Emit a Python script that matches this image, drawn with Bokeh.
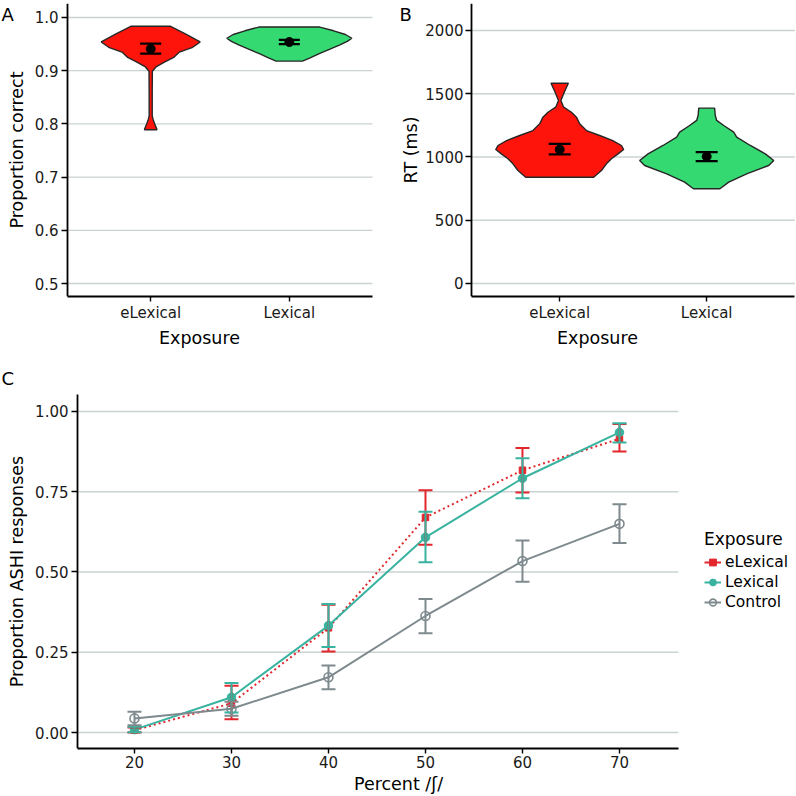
from bokeh.plotting import figure
from bokeh.layouts import column, row
from bokeh.models import (ColumnDataSource, FixedTicker, Label, Legend, LegendItem,
                          Range1d, Whisker, TeeHead, PrintfTickFormatter)
from bokeh.embed import file_html
from bokeh.resources import INLINE

FONT = "DejaVu Sans"
RED_FILL = "#FF140C"
GREEN_FILL = "#35D972"
RED = "#E2262C"
TEAL = "#39B3A0"
GREY = "#7E8A8E"
GRID = "#CBD3D3"
OUTLINE = "#262626"

# ---------------- data ----------------
exposure_labels = ["eLexical", "Lexical"]
exposure_pos = [1, 2]

# Panel A: proportion correct
acc_ticks = [0.5, 0.6, 0.7, 0.8, 0.9, 1.0]
acc_mean = [0.941, 0.954]
acc_lo = [0.932, 0.950]
acc_hi = [0.951, 0.958]
acc_el_level = [0.9836, 0.969, 0.954, 0.944, 0.935, 0.925, 0.916, 0.907, 0.899, 0.860, 0.815, 0.808, 0.800, 0.792, 0.789]
acc_el_width = [0.140, 0.250, 0.357, 0.303, 0.207, 0.166, 0.099, 0.038, 0.012, 0.011, 0.011, 0.018, 0.029, 0.042, 0.045]
acc_lx_level = [0.982, 0.975, 0.968, 0.961, 0.955, 0.948, 0.940, 0.932, 0.924, 0.918]
acc_lx_width = [0.220, 0.320, 0.405, 0.451, 0.418, 0.361, 0.289, 0.216, 0.150, 0.095]

# Panel B: RT
rt_ticks = [0, 500, 1000, 1500, 2000]
rt_mean = [1059, 1004]
rt_lo = [1020, 967]
rt_hi = [1104, 1038]
rt_el_level = [1583, 1520, 1447, 1394, 1354, 1315, 1262, 1209, 1170, 1130, 1091, 1059, 1025, 986, 946, 893, 840]
rt_el_width = [0.059, 0.034, 0.008, 0.027, 0.080, 0.114, 0.136, 0.182, 0.272, 0.361, 0.420, 0.435, 0.397, 0.352, 0.318, 0.284, 0.231]
rt_lx_level = [1386, 1330, 1289, 1249, 1196, 1157, 1091, 1025, 972, 933, 867, 801, 749]
rt_lx_width = [0.054, 0.058, 0.068, 0.116, 0.184, 0.204, 0.297, 0.399, 0.456, 0.422, 0.272, 0.150, 0.090]

# Panel C: proportion ASHI responses
percent = [20, 30, 40, 50, 60, 70]
ashi_ticks = [0.0, 0.25, 0.5, 0.75, 1.0]
el_mean = [0.007, 0.091, 0.326, 0.670, 0.817, 0.915]
el_lo = [0.000, 0.041, 0.252, 0.585, 0.748, 0.875]
el_hi = [0.016, 0.146, 0.398, 0.755, 0.886, 0.961]
lx_mean = [0.009, 0.110, 0.333, 0.608, 0.792, 0.935]
lx_lo = [0.001, 0.062, 0.266, 0.530, 0.730, 0.903]
lx_hi = [0.018, 0.154, 0.400, 0.688, 0.854, 0.963]
ct_mean = [0.044, 0.074, 0.172, 0.363, 0.534, 0.650]
ct_lo = [0.023, 0.052, 0.135, 0.309, 0.470, 0.590]
ct_hi = [0.065, 0.096, 0.209, 0.416, 0.598, 0.711]


def style(p, xlabel, ylabel, x0, x1, yticks):
    p.xgrid.visible = False
    p.ygrid.visible = False
    p.outline_line_color = None
    p.background_fill_color = "white"
    p.border_fill_color = "white"
    # horizontal grid lines, only across the axis extent
    p.segment(x0=[x0] * len(yticks), x1=[x1] * len(yticks), y0=yticks, y1=yticks,
              line_color=GRID, line_width=1.3)
    for ax in p.axis:
        ax.axis_line_color = "black"
        ax.axis_line_width = 1.8
        ax.major_tick_line_color = "black"
        ax.major_tick_line_width = 1.4
        ax.major_tick_in = 0
        ax.minor_tick_line_color = None
        ax.major_label_text_font = FONT
        ax.major_label_text_font_size = "15px"
        ax.major_label_text_color = "#1A1A1A"
        ax.axis_label_text_font = FONT
        ax.axis_label_text_font_size = "17.5px"
        ax.axis_label_text_font_style = "normal"
        ax.axis_label_text_color = "black"
    p.yaxis.major_tick_out = 6
    p.yaxis.major_label_standoff = 3
    p.yaxis.axis_label_standoff = 5
    p.xaxis.major_tick_out = 5
    p.xaxis.major_label_standoff = 2
    p.xaxis.axis_label_standoff = 3
    p.xaxis.axis_label = xlabel
    p.yaxis.axis_label = ylabel
    p.yaxis.fixed_location = x0
    p.yaxis.ticker = FixedTicker(ticks=yticks)
    p.xaxis.bounds = (x0, x1)


def violin(p, center, levels, widths, color):
    xs = [center - w for w in widths] + [center + w for w in reversed(widths)]
    ys = list(levels) + list(reversed(levels))
    p.patch(xs, ys, fill_color=color, line_color=OUTLINE, line_width=1.4)


def mean_bars(p, means, lo, hi, head):
    src = ColumnDataSource(dict(x=exposure_pos, m=means, lo=lo, hi=hi))
    w = Whisker(base="x", lower="lo", upper="hi", dimension="height", source=src,
                line_color="black", line_width=2.2, level="overlay",
                upper_head=TeeHead(size=head, line_color="black", line_width=2.2),
                lower_head=TeeHead(size=head, line_color="black", line_width=2.2))
    p.add_layout(w)
    p.scatter("x", "m", source=src, marker="circle", size=9, fill_color="black", line_color="black")


def panel_letter(p, text, dx, dy):
    p.add_layout(Label(x=dx, y=dy, x_units="screen", y_units="screen", text=text,
                       text_font=FONT, text_font_size="18px", text_color="black",
                       text_baseline="top", text_align="left"))


# ---------------- Panel A ----------------
pA = figure(frame_width=398, frame_height=293, min_border_left=0, min_border_right=0,
            min_border_top=3, min_border_bottom=52,
            x_range=Range1d(-0.0834, 2.7876), y_range=Range1d(0.4756, 1.0263),
            output_backend="svg", toolbar_location=None)
style(pA, "Exposure", "Proportion correct", 0.4, 2.6, acc_ticks)
pA.xaxis.ticker = FixedTicker(ticks=exposure_pos)
pA.xaxis.major_label_overrides = {exposure_pos[i]: exposure_labels[i] for i in range(2)}
pA.yaxis.formatter = PrintfTickFormatter(format="%.1f")
violin(pA, exposure_pos[0], acc_el_level, acc_el_width, RED_FILL)
violin(pA, exposure_pos[1], acc_lx_level, acc_lx_width, GREEN_FILL)
mean_bars(pA, acc_mean, acc_lo, acc_hi, 21)
panel_letter(pA, "A", 1, 293)

# ---------------- Panel B ----------------
pB = figure(frame_width=398, frame_height=293, min_border_left=0, min_border_right=0,
            min_border_top=3, min_border_bottom=52,
            x_range=Range1d(-0.0966, 2.611), y_range=Range1d(-102.8, 2213.4),
            output_backend="svg", toolbar_location=None)
style(pB, "Exposure", "RT (ms)", 0.4, 2.6, rt_ticks)
pB.yaxis.major_label_standoff = 2
pB.yaxis.axis_label_standoff = 1
pB.xaxis.ticker = FixedTicker(ticks=exposure_pos)
pB.xaxis.major_label_overrides = {exposure_pos[i]: exposure_labels[i] for i in range(2)}
violin(pB, exposure_pos[0], rt_el_level, rt_el_width, RED_FILL)
violin(pB, exposure_pos[1], rt_lx_level, rt_lx_width, GREEN_FILL)
mean_bars(pB, rt_mean, rt_lo, rt_hi, 22)
panel_letter(pB, "B", 1, 293)

# ---------------- Panel C ----------------
pC = figure(frame_width=796, frame_height=381, min_border_left=0, min_border_right=0,
            min_border_top=17, min_border_bottom=49,
            x_range=Range1d(6.186, 88.25), y_range=Range1d(-0.0498, 1.137),
            output_backend="svg", toolbar_location=None)
style(pC, "Percent /ʃ/", "Proportion ASHI responses", 14.124, 76.08, ashi_ticks)
pC.yaxis.bounds = (-0.0498, 1.053)
pC.xaxis.ticker = FixedTicker(ticks=percent)
pC.yaxis.formatter = PrintfTickFormatter(format="%.2f")

series = [
    ("eLexical", el_mean, el_lo, el_hi, RED, "2 3", "square", 6.5, RED),
    ("Lexical", lx_mean, lx_lo, lx_hi, TEAL, "solid", "circle", 8.5, TEAL),
    ("Control", ct_mean, ct_lo, ct_hi, GREY, "solid", "circle", 9, None),
]
items = []
for name, m, lo, hi, col, dash, mk, sz, fill in series:
    src = ColumnDataSource(dict(x=percent, m=m, lo=lo, hi=hi))
    pC.line("x", "m", source=src, line_color=col, line_width=2, line_dash=dash)
    wk = Whisker(base="x", lower="lo", upper="hi", dimension="height", source=src,
                 line_color=col, line_width=2, level="glyph",
                 upper_head=TeeHead(size=14, line_color=col, line_width=2),
                 lower_head=TeeHead(size=14, line_color=col, line_width=2))
    pC.add_layout(wk)
    if fill is None:
        pts = pC.scatter("x", "m", source=src, marker=mk, size=sz, fill_alpha=0,
                         line_color=col, line_width=1.6)
    else:
        pts = pC.scatter("x", "m", source=src, marker=mk, size=sz, fill_color=fill,
                         line_color=col)
    # single-point solid line: invisible in the plot, gives the legend its line key
    proxy = pC.line(x=percent[:1], y=m[:1], line_color=col, line_width=2)
    items.append(LegendItem(label=name, renderers=[proxy, pts]))

legend = Legend(items=items, title="Exposure", location=(704, 136),
                border_line_color=None, background_fill_alpha=0,
                title_text_font=FONT, title_text_font_size="17px", title_text_font_style="normal",
                title_text_color="black",
                label_text_font=FONT, label_text_font_size="15.5px", label_text_color="black",
                glyph_width=17, glyph_height=20, label_height=20, spacing=0,
                padding=2, margin=0, label_standoff=4, title_standoff=3)
pC.add_layout(legend)
panel_letter(pC, "C", 1, 381)

layout = column(row(pA, pB, spacing=0), pC, spacing=0)
open("out.html", "w").write(file_html(layout, INLINE))
